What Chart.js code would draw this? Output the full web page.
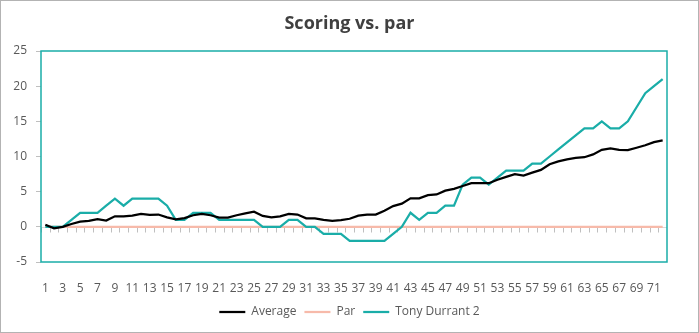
<!DOCTYPE html>
<html>
<head>
<meta charset="utf-8">
<script src="https://cdn.jsdelivr.net/npm/chart.js@4"></script>
<style>
  html, body { margin: 0; padding: 0; background: #ffffff; }
  #wrap { width: 699px; height: 333px; }
</style>
</head>
<body>
<div id="wrap"><canvas id="c" width="699" height="333"></canvas></div>
<script>
// Hole numbers along the round
const holes = [1, 2, 3, 4, 5, 6, 7, 8, 9, 10, 11, 12, 13, 14, 15, 16, 17, 18, 19, 20,
  21, 22, 23, 24, 25, 26, 27, 28, 29, 30, 31, 32, 33, 34, 35, 36, 37, 38, 39, 40,
  41, 42, 43, 44, 45, 46, 47, 48, 49, 50, 51, 52, 53, 54, 55, 56, 57, 58, 59, 60,
  61, 62, 63, 64, 65, 66, 67, 68, 69, 70, 71, 72];

// Cumulative score relative to par
const average = [0.3, -0.2, 0, 0.4, 0.75, 0.85, 1.1, 0.9, 1.5, 1.5,
  1.6, 1.85, 1.7, 1.75, 1.35, 1.05, 1.25, 1.65, 1.85, 1.65,
  1.3, 1.3, 1.65, 1.9, 2.15, 1.55, 1.35, 1.5, 1.85, 1.75,
  1.2, 1.2, 1.0, 0.85, 0.95, 1.15, 1.6, 1.75, 1.75, 2.3,
  2.95, 3.3, 4.05, 4.05, 4.5, 4.6, 5.15, 5.4, 5.8, 6.2,
  6.2, 6.2, 6.7, 7.1, 7.5, 7.3, 7.7, 8.1, 8.9, 9.3,
  9.6, 9.8, 9.9, 10.3, 10.95, 11.15, 10.95, 10.9, 11.25, 11.6, 12.05, 12.3];

const par = [0, 0, 0, 0, 0, 0, 0, 0, 0, 0, 0, 0, 0, 0, 0, 0, 0, 0, 0, 0,
  0, 0, 0, 0, 0, 0, 0, 0, 0, 0, 0, 0, 0, 0, 0, 0, 0, 0, 0, 0,
  0, 0, 0, 0, 0, 0, 0, 0, 0, 0, 0, 0, 0, 0, 0, 0, 0, 0, 0, 0,
  0, 0, 0, 0, 0, 0, 0, 0, 0, 0, 0, 0];

const tonyDurrant2 = [0, 0, 0, 1, 2, 2, 2, 3, 4, 3,
  4, 4, 4, 4, 3, 1, 1, 2, 2, 2,
  1, 1, 1, 1, 1, 0, 0, 0, 1, 1,
  0, 0, -1, -1, -1, -2, -2, -2, -2, -2,
  -1, 0, 2, 1, 2, 2, 3, 3, 6, 7,
  7, 6, 7, 8, 8, 8, 9, 9, 10, 11,
  12, 13, 14, 14, 15, 14, 14, 15, 17, 19, 20, 21];

const yTicks = [-5, 0, 5, 10, 15, 20, 25];

const TEAL = 'rgb(26,173,168)';
const PAR_PINK = 'rgb(247,186,170)';
const TEXT = '#595959';
const FONT = "'Open Sans', 'Noto Sans', sans-serif";

// Frame around the plot area, zero axis line and its category tick marks, outer chart border
const decorations = {
  id: 'decorations',
  beforeDatasetsDraw(chart) {
    const { ctx, chartArea: a, scales: { x, y } } = chart;
    const y0 = Math.round(y.getPixelForValue(0)) + 0.5;
    ctx.save();
    // zero axis line
    ctx.strokeStyle = '#d9d9d9';
    ctx.lineWidth = 1;
    ctx.beginPath();
    ctx.moveTo(a.left, y0);
    ctx.lineTo(a.right, y0);
    ctx.stroke();
    // tick marks between categories hanging below the zero line
    ctx.strokeStyle = '#bfbfbf';
    ctx.beginPath();
    for (let i = 0; i < holes.length; i++) {
      const p = i === 0 ? a.left : (x.getPixelForValue(i - 1) + x.getPixelForValue(i)) / 2;
      const px = Math.round(p) + 0.5;
      ctx.moveTo(px, y0);
      ctx.lineTo(px, y0 + 5);
    }
    ctx.stroke();
    // plot area frame
    ctx.strokeStyle = TEAL;
    ctx.lineWidth = 1.5;
    ctx.strokeRect(a.left, a.top, a.right - a.left, a.bottom - a.top);
    ctx.restore();
  },
  afterDraw(chart) {
    const { ctx, width, height } = chart;
    ctx.save();
    ctx.strokeStyle = '#b3b3b3';
    ctx.lineWidth = 1;
    ctx.strokeRect(0.5, 0.5, width - 1, height - 1);
    ctx.restore();
  }
};

new Chart(document.getElementById('c'), {
  type: 'line',
  data: {
    labels: holes,
    datasets: [
      { label: 'Average', data: average, borderColor: '#000000', backgroundColor: '#000000',
        borderWidth: 2.25, pointRadius: 0, pointStyle: 'line', tension: 0, order: 1 },
      { label: 'Par', data: par, borderColor: PAR_PINK, backgroundColor: PAR_PINK,
        borderWidth: 2.25, pointRadius: 0, pointStyle: 'line', tension: 0, order: 3 },
      { label: 'Tony Durrant 2', data: tonyDurrant2, borderColor: TEAL, backgroundColor: TEAL,
        borderWidth: 2.25, pointRadius: 0, pointStyle: 'line', tension: 0, order: 2 }
    ]
  },
  options: {
    responsive: false,
    animation: false,
    devicePixelRatio: 1,
    layout: { padding: { left: 0, right: 0, top: 0, bottom: 5 } },
    plugins: {
      title: {
        display: true,
        text: 'Scoring vs. par',
        color: '#404040',
        font: { family: FONT, size: 18, weight: 'bold' },
        padding: { top: 13.2, bottom: 16.2 }
      },
      legend: {
        position: 'bottom',
        labels: {
          usePointStyle: true,
          pointStyleWidth: 26,
          color: TEXT,
          font: { family: FONT, size: 12 },
          padding: 8,
          sort: (a, b) => a.datasetIndex - b.datasetIndex
        }
      },
      tooltip: { enabled: false }
    },
    scales: {
      x: {
        type: 'category',
        offset: true,
        grid: { display: false, drawTicks: false },
        border: { display: false },
        ticks: {
          autoSkip: false,
          maxRotation: 0,
          minRotation: 0,
          padding: 19,
          color: TEXT,
          font: { family: FONT, size: 12 },
          callback: (v, i) => (i % 2 === 0 ? holes[i] : '')
        },
        afterFit: (s) => { s.height = 36; }
      },
      y: {
        min: -5,
        max: 25,
        afterBuildTicks: (s) => { s.ticks = yTicks.map(v => ({ value: v })); },
        grid: { display: true, drawOnChartArea: false, drawTicks: true, tickLength: 5, color: '#bfbfbf' },
        border: { display: false },
        ticks: {
          padding: 9,
          color: TEXT,
          font: { family: FONT, size: 12 }
        },
        afterFit: (s) => { s.width = 41; }
      },
      // empty margin on the right of the plot area
      yRight: {
        position: 'right',
        min: -5,
        max: 25,
        grid: { display: false, drawTicks: false },
        border: { display: false },
        ticks: { display: false },
        afterFit: (s) => { s.width = 32; }
      }
    }
  },
  plugins: [decorations]
});
</script>
</body>
</html>
